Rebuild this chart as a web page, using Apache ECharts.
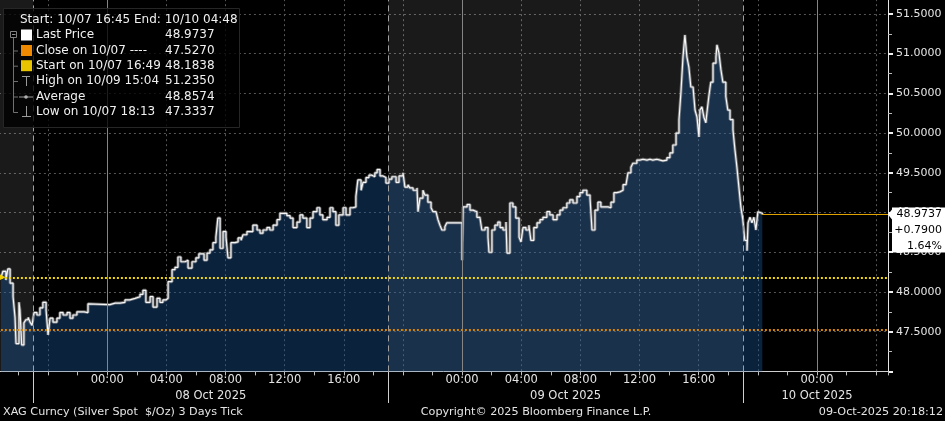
<!DOCTYPE html>
<html>
<head>
<meta charset="utf-8">
<script src="https://cdn.jsdelivr.net/npm/echarts@6/dist/echarts.min.js"></script>
<style>
html, body { margin: 0; padding: 0; background: #000; }
#chart { width: 945px; height: 421px; }
</style>
</head>
<body>
<div id="chart"></div>
<script>
// XAG Curncy ticks (HH:MM per day)
var times07 = ['16:49','16:57','17:09','17:17','17:26','17:38','17:46','17:50','18:02','18:06',
  '18:13','18:22','18:30','18:39','18:47','18:55','19:03','19:15','19:27','19:39',
  '19:52','20:00','20:08','20:20','20:36','20:48','21:01','21:17','21:29','21:41',
  '21:57','22:10','22:26','22:42','22:50'];
var prices07 = [48.1838,48.26,48.15,48.29,48.11,47.94,47.68,47.35,47.87,47.77,
  47.3337,47.61,47.65,47.68,47.62,47.58,47.74,47.71,47.80,47.87,
  47.77,47.46,47.67,47.62,47.67,47.74,47.71,47.74,47.67,47.71,
  47.75,47.75,47.74,47.85,47.84];

var times08 = ['00:11','00:32','00:52','01:12','01:32','01:53','02:13','02:25','02:37','02:54',
  '03:06','03:22','03:34','03:46','03:58','04:07','04:23','04:35','04:47','04:59',
  '05:16','05:28','05:44','06:00','06:12','06:33','06:45','06:57','07:09','07:21',
  '07:29','07:38','07:50','08:02','08:10','08:22','08:38','08:51','09:03','09:11',
  '09:27','09:39','09:51','10:08','10:20','10:32','10:48','11:00','11:13','11:29',
  '11:41','11:53','12:09','12:22','12:34','12:50','13:02','13:14','13:30','13:43',
  '13:55','14:11','14:23','14:35','14:52','15:04','15:16','15:28','15:40','15:57',
  '16:09','16:25','16:37','16:49','16:57','17:10','17:18','17:30','17:42','17:54',
  '18:06','18:15','18:27','18:39','18:51','19:03','19:15','19:32','19:44','20:00',
  '20:08','20:20','20:28','20:41','20:57','21:01','21:09','21:21','21:29','21:41',
  '21:54','22:02','22:14','22:22','22:30','22:38','22:50','22:58'];
var prices08 = [47.86,47.86,47.87,47.90,47.92,47.94,47.97,48.02,47.87,47.94,
  47.81,47.92,47.87,47.90,47.92,48.13,48.28,48.31,48.44,48.38,
  48.40,48.30,48.38,48.43,48.48,48.40,48.49,48.53,48.62,48.69,
  48.93,48.55,48.76,48.69,48.43,48.62,48.63,48.68,48.65,48.72,
  48.76,48.76,48.84,48.78,48.74,48.78,48.81,48.78,48.84,48.91,
  48.99,48.99,48.96,48.93,48.81,48.88,48.97,48.93,48.81,48.93,
  49.01,49.06,48.97,48.91,48.94,49.06,49.01,48.84,48.97,49.06,
  48.97,49.06,49.07,49.20,49.41,49.28,49.38,49.44,49.47,49.45,
  49.50,49.54,49.46,49.44,49.37,49.42,49.45,49.38,49.46,49.50,
  49.32,49.35,49.31,49.28,49.31,49.01,49.18,49.28,49.22,49.13,
  49.06,49.01,49.03,48.91,48.84,48.78,48.82,48.87];

var times09 = ['00:00','00:04','00:20','00:32','00:44','01:00','01:12','01:20','01:33','01:45',
  '01:49','02:01','02:13','02:25','02:34','02:46','02:58','03:02','03:14','03:26',
  '03:38','03:51','03:59','04:07','04:19','04:31','04:39','04:51','05:04','05:16',
  '05:28','05:44','05:56','06:09','06:25','06:37','06:49','07:05','07:17','07:30',
  '07:46','07:58','08:10','08:26','08:39','08:47','08:59','09:11','09:23','09:39',
  '09:52','10:04','10:16','10:28','10:40','10:53','11:05','11:13','11:25','11:33',
  '11:49','12:01','12:14','12:30','12:42','12:54','13:10','13:23','13:35','13:51',
  '14:03','14:15','14:28','14:40','14:48','14:56','15:04','15:12','15:20','15:28',
  '15:37','15:45','15:53','16:01','16:05','16:13','16:21','16:29','16:33','16:41',
  '16:49','16:58','17:10','17:14','17:22','17:30','17:38','17:50','17:58','18:07',
  '18:19','18:27','18:35','18:43','18:51','18:59','19:07','19:16','19:20','19:28',
  '19:36','19:44','19:52','20:00','20:08','20:18'];
var prices09 = [48.40,49.07,49.10,49.03,49.01,48.94,48.94,48.78,48.81,48.69,
  48.50,48.78,48.84,48.88,48.81,48.78,48.88,48.49,49.12,49.07,
  48.93,48.69,48.63,48.81,48.78,48.84,48.65,48.81,48.87,48.91,
  48.94,49.01,48.97,48.91,48.97,49.03,49.06,49.12,49.16,49.12,
  49.20,49.25,49.28,49.22,49.18,48.78,49.03,49.13,49.07,49.07,
  49.06,49.13,49.25,49.26,49.28,49.35,49.37,49.50,49.57,49.62,
  49.66,49.67,49.66,49.67,49.66,49.67,49.66,49.65,49.66,49.69,
  49.75,49.85,50.00,50.17,50.52,50.95,51.235,50.96,50.83,50.58,
  50.57,50.29,50.20,49.95,50.29,50.33,50.20,50.13,50.25,50.46,
  50.64,50.88,50.96,51.11,51.01,50.80,50.64,50.46,50.29,50.17,
  50.04,49.79,49.57,49.32,49.07,48.91,48.65,48.52,48.87,48.94,
  48.87,48.94,48.78,49.01,48.99,48.9737];

// reference levels
var closePrice = 47.5270;
var startPrice = 48.1838;
var lastPrice = 48.9737;

// legend rows: label, value
var legendLabels = ['Last Price', 'Close on 10/07 ----', 'Start on 10/07 16:49', 'High on 10/09 15:04', 'Average', 'Low on 10/07 18:13'];
var legendValues = ['48.9737', '47.5270', '48.1838', '51.2350', '48.8574', '47.3337'];
var changeTexts = ['48.9737', '+0.7900', '1.64%'];

// axis / session layout (times as MM/DD HH:MM)
var axisStart = '10/07 16:00';
var viewStart = '10/07 16:45';
var viewEnd = '10/10 04:48';
var sessionBreaks = ['10/07 19:00', '10/08 19:00', '10/09 19:00'];
var midnights = ['10/08 00:00', '10/09 00:00', '10/10 00:00'];
var shadedSessions = [['10/07 16:00', '10/07 19:00'], ['10/08 19:00', '10/09 19:00']];
var dateLabels = ['08 Oct 2025', '09 Oct 2025', '10 Oct 2025'];
var dateLabelAt = ['10/08 07:00', '10/09 07:00', '10/10 00:00'];

var FONT = '"DejaVu Sans", Verdana, sans-serif';
var TXT = '#e4e4e4';

// hours since 10/07 00:00
function toHours(s) {
  var p = s.split(' ');
  var d = p[0].split('/');
  var t = p[1].split(':');
  return (parseInt(d[1], 10) - 7) * 24 + parseInt(t[0], 10) + parseInt(t[1], 10) / 60;
}
function build(day, ts, ps) {
  return ts.map(function (t, i) { return [toHours(day + ' ' + t), ps[i]]; });
}
var series = build('10/07', times07, prices07)
  .concat(build('10/08', times08, prices08))
  .concat(build('10/09', times09, prices09));

var xMin = toHours(axisStart), x0 = toHours(viewStart), xMax = toHours(viewEnd);
var plotRight = 888;
var pxPerHour = plotRight / (xMax - x0);
var gridLeft = -(x0 - xMin) * pxPerHour;

// y: 51.5 sits at 13.9px, 47.0 at 371.4px
var yTop51 = 13.9, yBot = 371.4;
var pxPerUnit = (yBot - yTop51) / 4.5;
var gridTop = yTop51 - 0.5 * pxPerUnit;

function pad(n) { return (n < 10 ? '0' : '') + n; }

var chart = echarts.init(document.getElementById('chart'));

var option = {
  backgroundColor: '#000',
  animation: false,
  textStyle: { fontFamily: FONT },
  grid: { left: gridLeft, right: 945 - plotRight, top: gridTop, bottom: 421 - yBot, containLabel: false, outerBoundsMode: 'none' },
  xAxis: {
    type: 'value', min: xMin, max: xMax, interval: 4,
    axisLine: { lineStyle: { color: '#cfcfcf' } },
    axisTick: { length: 4, lineStyle: { color: '#bdbdbd' } },
    minorTick: { show: true, splitNumber: 2, length: 4, lineStyle: { color: '#bdbdbd' } },
    splitLine: { show: true, lineStyle: { color: '#565656', type: [2, 3] } },
    axisLabel: {
      color: TXT, fontSize: 11.5, margin: 3, fontFamily: FONT,
      formatter: function (v) {
        var r = Math.round(v), h = r % 24;
        if (r < 20 || r > 74 || h === 20) return '';
        return pad(h) + ':00';
      }
    }
  },
  yAxis: {
    type: 'value', position: 'right', min: 47, max: 52, interval: 0.5,
    axisLine: { show: true, lineStyle: { color: '#e6e6e6' } },
    axisTick: { show: true, length: 5, lineStyle: { color: '#f0f0f0', width: 2 } },
    minorTick: { show: true, splitNumber: 2, length: 4, lineStyle: { color: '#bbbbbb' } },
    splitLine: { show: true, lineStyle: { color: '#565656', type: [2, 3] } },
    axisLabel: {
      color: TXT, fontSize: 11, margin: 8, fontFamily: FONT, showMinLabel: false,
      formatter: function (v) { return v.toFixed(4); }
    }
  },
  series: [
    {
      // session shading and vertical day markers
      type: 'line', data: [], z: 1, silent: true,
      markArea: {
        silent: true,
        itemStyle: { color: 'rgba(255,255,255,0.1)' },
        data: shadedSessions.map(function (s) { return [{ xAxis: toHours(s[0]) }, { xAxis: toHours(s[1]) }]; })
      },
      markLine: {
        silent: true, symbol: 'none', label: { show: false },
        data: midnights.map(function (m) {
          return { xAxis: toHours(m), lineStyle: { color: '#858585', type: 'solid', width: 1 } };
        }).concat(sessionBreaks.map(function (b) {
          return { xAxis: toHours(b), lineStyle: { color: '#a0a0a0', type: [6, 4], width: 1 } };
        }))
      }
    },
    {
      type: 'line', data: series, step: 'end', symbol: 'none', z: 2, silent: true,
      lineStyle: { width: 3, color: 'rgba(160,160,160,0.6)' },
      areaStyle: { origin: 'start', color: 'rgba(26,80,146,0.6)' }
    },
    {
      type: 'line', data: series, step: 'end', symbol: 'none', z: 3, silent: true,
      lineStyle: { width: 1.2, color: '#f6f6f6' },
      markLine: {
        silent: true, symbol: 'none', label: { show: false },
        data: [
          { yAxis: closePrice, lineStyle: { color: '#d68400', type: [2, 2], width: 2 } },
          { yAxis: startPrice, lineStyle: { color: '#f2d600', type: [2, 2], width: 2 } },
          [
            { coord: [series[series.length - 1][0], lastPrice], lineStyle: { color: '#e0a200', type: 'solid', width: 1 } },
            { coord: [xMax, lastPrice] }
          ]
        ]
      },
      markPoint: {
        silent: true, label: { show: false },
        data: [{ coord: [series[0][0], startPrice], symbol: 'triangle', symbolRotate: -90, symbolSize: 9, itemStyle: { color: '#f2d000' } }]
      }
    }
  ]
};
chart.setOption(option);

// overlay pieces placed with the chart's own scales
function px(h, v) { return chart.convertToPixel({ gridIndex: 0 }, [h, v]); }
var g = [];
sessionBreaks.forEach(function (b) {
  var x = Math.round(px(toHours(b), 47)[0]) + 0.5;
  g.push({ type: 'line', shape: { x1: x, y1: yBot, x2: x, y2: 403 }, style: { stroke: '#cfcfcf', lineWidth: 1 } });
});
dateLabels.forEach(function (d, i) {
  g.push({ type: 'text', x: px(toHours(dateLabelAt[i]), 47)[0], y: 396,
    style: { text: d, fill: TXT, fontSize: 11.5, fontFamily: FONT, align: 'center', verticalAlign: 'middle' } });
});

// last price tag
var lp = px(xMax, lastPrice);
var ax = lp[0], ly = lp[1];
g.push({ type: 'polygon', z: 50,
  shape: { points: [[ax, ly], [ax + 4, ly - 5], [ax + 4, ly - 7], [946, ly - 7], [946, ly + 38], [ax + 4, ly + 38], [ax + 4, ly + 5]] },
  style: { fill: '#ffffff' } });
changeTexts.forEach(function (t, i) {
  g.push({ type: 'text', z: 51, x: 942, y: ly + i * 15.8,
    style: { text: t, fill: '#000', fontSize: 11, fontFamily: FONT, align: 'right', verticalAlign: 'middle' } });
});

// footer
g.push({ type: 'text', x: 3, y: 412, style: { text: 'XAG Curncy (Silver Spot  $/Oz) 3 Days Tick', fill: TXT, fontSize: 11.2, fontFamily: FONT, align: 'left', verticalAlign: 'middle' } });
g.push({ type: 'text', x: 536, y: 412, style: { text: 'Copyright\u00a9 2025 Bloomberg Finance L.P.', fill: TXT, fontSize: 11.2, fontFamily: FONT, align: 'center', verticalAlign: 'middle' } });
g.push({ type: 'text', x: 943, y: 412, style: { text: '09-Oct-2025 20:18:12', fill: TXT, fontSize: 11.2, fontFamily: FONT, align: 'right', verticalAlign: 'middle' } });

// legend panel
g.push({ type: 'rect', z: 40, shape: { x: 3.5, y: 8.5, width: 236, height: 119 }, style: { fill: 'rgba(0,0,0,0.78)', stroke: '#262626' } });
g.push({ type: 'text', z: 41, x: 20, y: 20, style: { text: 'Start: 10/07 16:45 End: 10/10 04:48', fill: '#f0f0f0', fontSize: 12, fontFamily: FONT, verticalAlign: 'middle' } });
var rowY = [35, 50.5, 65.7, 81, 96.5, 112];
g.push({ type: 'line', z: 41, shape: { x1: 13.5, y1: 38, x2: 13.5, y2: 112.5 }, style: { stroke: '#707070', lineWidth: 1 } });
g.push({ type: 'rect', z: 42, shape: { x: 10.5, y: 31.5, width: 6, height: 6 }, style: { fill: '#000', stroke: '#808080' } });
g.push({ type: 'line', z: 43, shape: { x1: 12, y1: 34.5, x2: 15.5, y2: 34.5 }, style: { stroke: '#909090' } });
var swatch = ['#ffffff', '#f08a00', '#e8c400'];
rowY.forEach(function (y, i) {
  if (i > 0) g.push({ type: 'line', z: 41, shape: { x1: 13.5, y1: y + 0.5, x2: 18, y2: y + 0.5 }, style: { stroke: '#707070' } });
  if (i < 3) {
    g.push({ type: 'rect', z: 41, shape: { x: 21, y: y - 5.5, width: 11, height: 11 }, style: { fill: swatch[i] } });
  }
  g.push({ type: 'text', z: 41, x: 36, y: y, style: { text: legendLabels[i], fill: '#f0f0f0', fontSize: 12, fontFamily: FONT, verticalAlign: 'middle' } });
  g.push({ type: 'text', z: 41, x: 165, y: y, style: { text: legendValues[i], fill: '#f0f0f0', fontSize: 12, fontFamily: FONT, verticalAlign: 'middle' } });
});
// high / average / low glyphs
g.push({ type: 'polyline', z: 41, shape: { points: [[22, 76.5], [30, 76.5]] }, style: { stroke: '#9a9a9a' } });
g.push({ type: 'line', z: 41, shape: { x1: 26.5, y1: 76.5, x2: 26.5, y2: 86 }, style: { stroke: '#9a9a9a' } });
g.push({ type: 'line', z: 41, shape: { x1: 19, y1: 97, x2: 33, y2: 97 }, style: { stroke: '#9a9a9a' } });
g.push({ type: 'circle', z: 41, shape: { cx: 26, cy: 97, r: 1.8 }, style: { fill: '#b0b0b0' } });
g.push({ type: 'line', z: 41, shape: { x1: 26.5, y1: 106, x2: 26.5, y2: 116.5 }, style: { stroke: '#9a9a9a' } });
g.push({ type: 'polyline', z: 41, shape: { points: [[22, 116.5], [31, 116.5]] }, style: { stroke: '#9a9a9a' } });

chart.setOption({ graphic: g });
</script>
</body>
</html>
